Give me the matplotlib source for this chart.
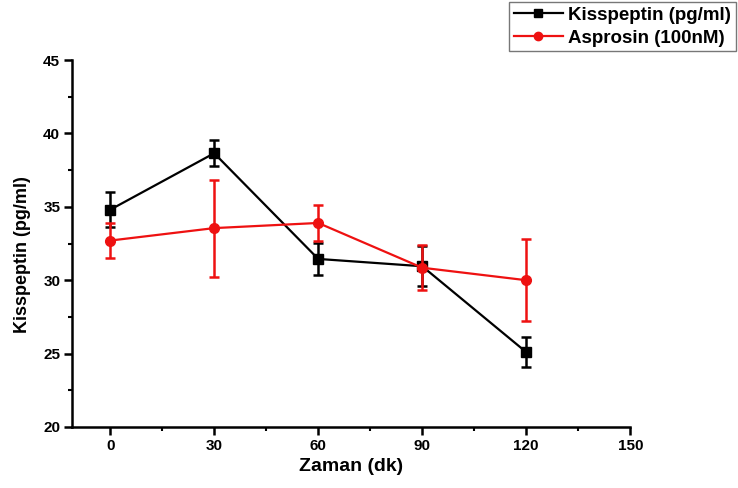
import matplotlib
matplotlib.use("Agg")
import matplotlib.pyplot as plt
from matplotlib.ticker import MultipleLocator
from matplotlib.lines import Line2D

plt.rcParams['font.family'] = ['Liberation Sans', 'DejaVu Sans']
plt.rcParams['font.weight'] = 'bold'

# time points (dk)
zaman = [0, 30, 60, 90, 120]

# Kisspeptin (pg/ml) mean and error
kiss = [34.8, 38.65, 31.45, 30.95, 25.1]
kiss_err = [1.2, 0.9, 1.1, 1.35, 1.0]

# Asprosin (100nM) mean and error
aspr = [32.7, 33.55, 33.9, 30.85, 30.0]
aspr_err = [1.2, 3.3, 1.2, 1.55, 2.8]

red = '#ee1111'

fig = plt.figure(figsize=(7.38, 4.88), dpi=100)
ax = fig.add_axes([0.0976, 0.125, 0.7564, 0.752])

ax.errorbar(zaman, kiss, yerr=kiss_err, color='black', marker='s', markersize=7,
            linewidth=1.6, elinewidth=1.8, capsize=3.6, capthick=1.8, zorder=3)
ax.errorbar(zaman, aspr, yerr=aspr_err, color=red, marker='o', markersize=7,
            linewidth=1.6, elinewidth=1.8, capsize=3.6, capthick=1.8, zorder=4)

ax.set_xlim(-11, 150)
ax.set_ylim(20, 45)
ax.xaxis.set_major_locator(MultipleLocator(30))
ax.xaxis.set_minor_locator(MultipleLocator(15))
ax.yaxis.set_major_locator(MultipleLocator(5))
ax.yaxis.set_minor_locator(MultipleLocator(2.5))

for s in ['top', 'right']:
    ax.spines[s].set_visible(False)
for s in ['left', 'bottom']:
    ax.spines[s].set_linewidth(1.8)

ax.tick_params(which='major', direction='out', length=5.5, width=1.8, labelsize=11, pad=3)
ax.tick_params(which='minor', direction='out', length=3, width=1.5)
for lbl in ax.get_xticklabels() + ax.get_yticklabels():
    lbl.set_fontweight('bold')

ax.set_xlabel('Zaman (dk)', fontsize=14, fontweight='bold', labelpad=4)
ax.set_ylabel('Kisspeptin (pg/ml)', fontsize=13, fontweight='bold')
ax.yaxis.set_label_coords(-0.073, 0.47)

handles = [
    Line2D([], [], color='black', marker='s', markersize=6, linewidth=1.6),
    Line2D([], [], color=red, marker='o', markersize=6, linewidth=1.6),
]
labels = ['Kisspeptin (pg/ml)', 'Asprosin (100nM)']
leg = fig.legend(handles, labels, loc='upper right', bbox_to_anchor=(0.997, 0.996),
                 fontsize=13.5, frameon=True, fancybox=False, handlelength=2.6,
                 borderpad=0.25, labelspacing=0.3, handletextpad=0.3, borderaxespad=0)
leg.get_frame().set_edgecolor('#555555')
leg.get_frame().set_linewidth(1.0)
for t in leg.get_texts():
    t.set_fontweight('bold')

fig.savefig('out.png', dpi=100)
